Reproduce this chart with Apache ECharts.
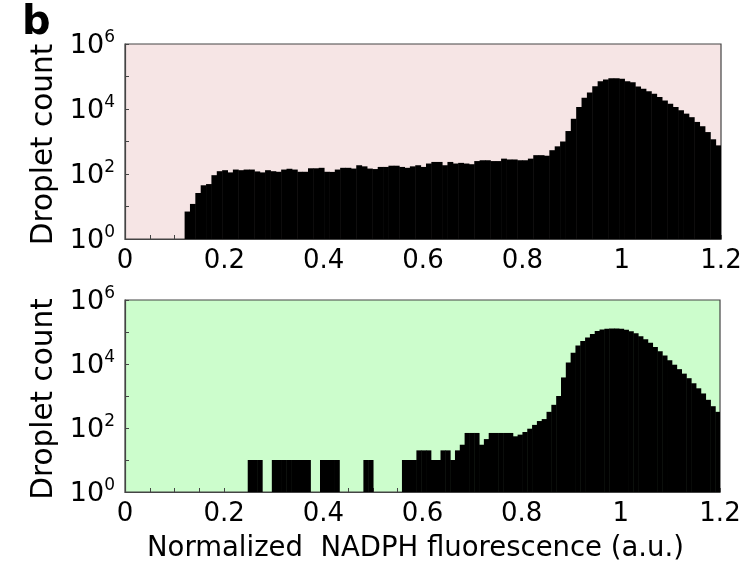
<!DOCTYPE html>
<html><head><meta charset="utf-8">
<script src="https://cdn.jsdelivr.net/npm/echarts@6/dist/echarts.min.js"></script>
<style>html,body{margin:0;padding:0;background:#fff}#c{width:747px;height:564px}</style>
</head><body><div id="c"></div>
<script>
// ---- data ----
const xTickLabels = ['0', '0.2', '0.4', '0.6', '0.8', '1', '1.2'];
const yTickExponents = [0, 2, 4, 6];

// top panel histogram (bin start, bin width, counts per bin)
const topBinStart = 0.12;
const topBinWidth = 0.0108;
const topCounts = [
  7, 12, 26, 45, 49, 92, 122, 131, 112, 137, 131, 137, 137, 120, 112, 131, 122, 117, 137, 145, 137, 117, 117, 150, 150, 155, 117,
  116, 137, 155, 155, 147, 186, 172, 147, 142, 165, 165, 180, 180, 165, 155, 172, 186, 165, 210, 235, 235, 186, 235, 210, 220, 210, 200, 250, 265, 265,
  250, 250, 297, 280, 280, 265, 265, 297, 380, 380, 365, 540, 710, 1000, 2100, 5000, 11500, 22000, 32000, 50000,
  72000, 81000, 89000, 89000, 85000, 72000, 66000, 49000, 42000, 35000, 29500, 23400, 18200, 14500, 11500, 9100, 7200, 5600, 4000, 2950, 1950, 1170, 760
];

// bottom panel histogram
const bottomBinStart = 0.2475;
const bottomBinWidth = 0.00972;
const bottomCounts = [
  10, 10, 10, 0, 0, 10, 10, 10, 10, 10, 10, 10, 10, 0, 0, 10, 10, 10, 10, 0, 0, 0, 0, 0, 10, 10, 0, 0, 0, 0, 0, 0,
  10, 10, 10, 20, 20, 20, 10, 10, 20, 20, 10, 20, 30, 70, 70, 70, 30, 45, 70, 70, 70, 70, 70,
  55, 62, 75, 95, 125, 165, 190, 320, 530, 1000,
  3800, 11200, 22400, 38000, 52500, 67600, 87000, 107000, 120000, 126000, 129000, 129000, 126000, 117000, 105000, 91000,
  74000, 59000, 46000, 34000, 25000, 18600, 13200, 9500, 6900, 5000, 3600, 2500, 1740, 1200, 760, 480, 320
];

const xLabel = 'Normalized  NADPH fluorescence (a.u.)';
const yLabel = 'Droplet count';
const panelLetter = 'b';

// ---- build ----
function bins(start, width, counts) {
  return counts.map((c, i) => [start + i * width, start + (i + 1) * width, c]);
}
const FONT = '"DejaVu Sans", sans-serif';

function renderHist(params, api) {
  const x0 = api.value(0), x1 = api.value(1), c = api.value(2);
  if (!(c > 0)) return;
  const p0 = api.coord([x0, c]);
  const p1 = api.coord([x1, 1]);
  return {
    type: 'rect',
    shape: { x: p0[0], y: p0[1], width: p1[0] - p0[0] + 0.5, height: p1[1] - p0[1] },
    style: { fill: '#000' }
  };
}

function xAxisCfg(gi, withName) {
  const a = {
    type: 'value', gridIndex: gi, min: 0, max: 1.2, interval: 0.2,
    axisLine: { show: true, onZero: false, lineStyle: { color: '#444', width: 1.2 } },
    axisTick: { show: true, inside: true, length: 4, lineStyle: { color: '#444' } },
    minorTick: { show: true, splitNumber: 4, length: 4, lineStyle: { color: '#444' } },
    splitLine: { show: false },
    axisLabel: {
      margin: 9, color: '#000', fontFamily: FONT, fontSize: 26,
      formatter: v => xTickLabels[Math.round(v / 0.2)]
    }
  };
  if (withName) {
    Object.assign(a, {
      name: xLabel, nameLocation: 'middle', nameGap: 43,
      nameTextStyle: { color: '#000', fontFamily: FONT, fontSize: 27.5, padding: [0, 14, 0, 0] }
    });
  }
  return a;
}
function yAxisCfg(gi) {
  return {
    type: 'log', logBase: 10, gridIndex: gi, min: 1, max: 1e6, interval: 1,
    axisLine: { show: true, lineStyle: { color: '#444', width: 1.2 } },
    axisTick: { show: true, inside: true, length: 4, lineStyle: { color: '#444' } },
    splitLine: { show: false },
    axisLabel: {
      margin: 10, color: '#000', fontFamily: FONT,
      formatter: v => {
        const e = Math.round(Math.log10(v));
        if (yTickExponents.indexOf(e) < 0) return '';
        return '{b|10}{s|' + e + '}';
      },
      rich: {
        b: { fontFamily: FONT, fontSize: 27, color: '#000', verticalAlign: 'bottom', lineHeight: 30 },
        s: { fontFamily: FONT, fontSize: 17, color: '#000', verticalAlign: 'top', lineHeight: 17 }
      }
    },
    name: yLabel, nameLocation: 'middle', nameGap: 46, nameRotate: 90,
    nameTextStyle: { color: '#000', fontFamily: FONT, fontSize: 29.5, padding: [0, 6, 0, 0] }
  };
}

const chart = echarts.init(document.getElementById('c'), null, { renderer: 'canvas' });
chart.setOption({
  animation: false,
  backgroundColor: '#fff',
  grid: [
    { left: 125, top: 44, width: 596, height: 195, show: true, backgroundColor: '#f6e5e5', borderColor: '#444', borderWidth: 1.2 },
    { left: 125, top: 300, width: 595, height: 195, show: true, backgroundColor: '#ccfdcc', borderColor: '#444', borderWidth: 1.2 }
  ],
  xAxis: [xAxisCfg(0, false), xAxisCfg(1, true)],
  yAxis: [yAxisCfg(0), yAxisCfg(1)],
  series: [
    { type: 'custom', xAxisIndex: 0, yAxisIndex: 0, renderItem: renderHist, encode: { x: [0, 1], y: 2 }, data: bins(topBinStart, topBinWidth, topCounts), clip: true },
    { type: 'custom', xAxisIndex: 1, yAxisIndex: 1, renderItem: renderHist, encode: { x: [0, 1], y: 2 }, data: bins(bottomBinStart, bottomBinWidth, bottomCounts), clip: true }
  ],
  graphic: [
    { type: 'text', left: 22, top: 4, style: { text: panelLetter, font: 'bold 40px ' + FONT, fill: '#000' } }
  ]
});
</script></body></html>
